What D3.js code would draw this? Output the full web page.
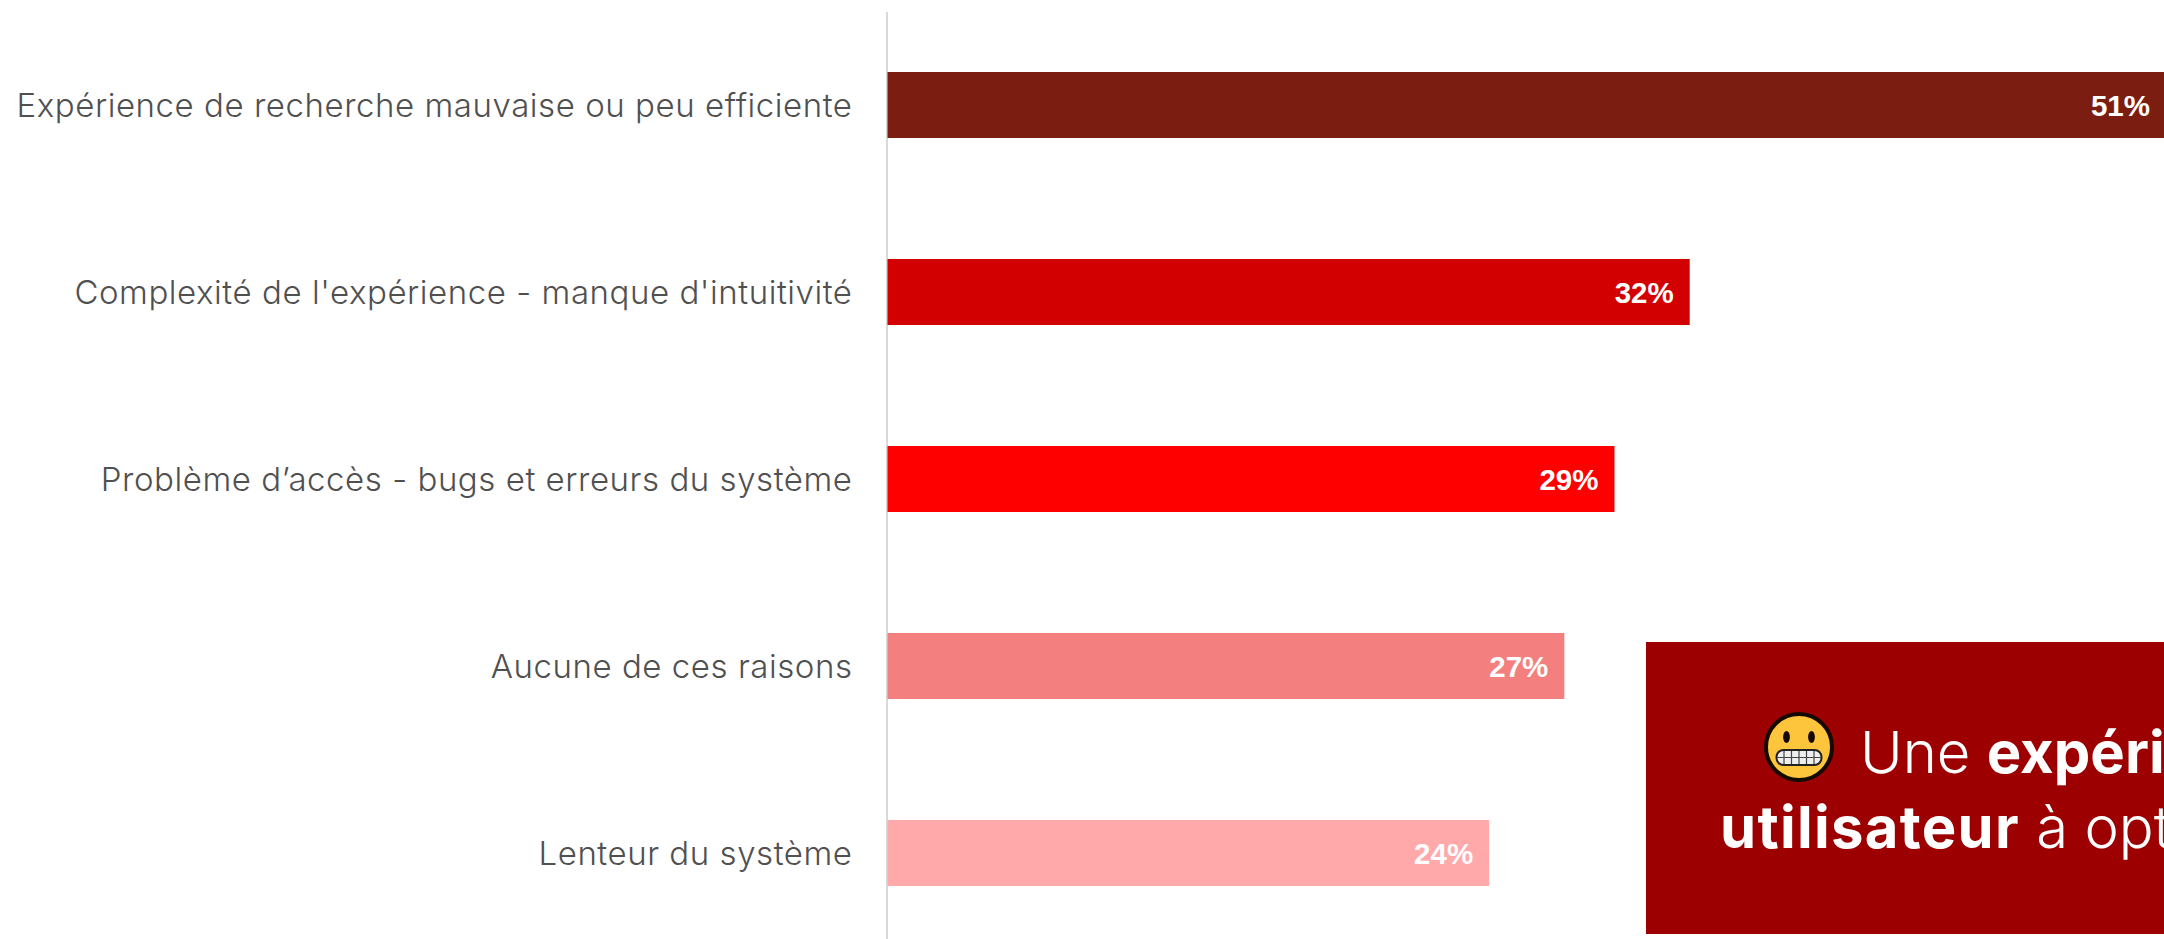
<!DOCTYPE html>
<html><head><meta charset="utf-8">
<script src="https://cdn.jsdelivr.net/npm/d3@7"></script>
<style>
html,body{margin:0;padding:0;background:#fff;overflow:hidden}
svg{display:block}
</style></head><body>
<svg id="c" width="2164" height="939"></svg>
<script>
const categories = ["Expérience de recherche mauvaise ou peu efficiente","Complexité de l'expérience - manque d'intuitivité","Problème d’accès - bugs et erreurs du système","Aucune de ces raisons","Lenteur du système"];
const values = [51,32,29,27,24];
const barColors = ["#7b1e11","#d20000","#ff0000","#f37f7f","#ffa9ab"];
const calloutLine1 = [["Une ",300,0],["expéri",700,0]];
const calloutLine2 = [["utilisateur",700,1.3],[" à opt",300,0]];

const svg = d3.select("#c");
const x = d3.scaleLinear().domain([0,51]).range([887.5,2166]);
const y = d3.scaleBand().domain(categories).range([11.5,946.5]).paddingInner(.647).paddingOuter(.3235);

const axis = svg.append("g").attr("transform","translate(886.5,0)")
  .call(d3.axisLeft(y).tickSize(0).tickPadding(34));
axis.select(".domain").attr("stroke","#d9d9d9").attr("stroke-width",2);
axis.selectAll("text").attr("font-family","Inter").attr("font-weight",300).attr("font-size",33).attr("letter-spacing",0.55).attr("fill","#505050").attr("dy","0.35em");

svg.selectAll("rect.bar").data(values).join("rect").attr("class","bar")
  .attr("x",x(0)).attr("y",(d,i)=>y(categories[i]))
  .attr("width",d=>x(d)-x(0)).attr("height",y.bandwidth())
  .attr("fill",(d,i)=>barColors[i]);

svg.selectAll("text.val").data(values).join("text").attr("class","val")
  .attr("x",d=>x(d)-16).attr("y",(d,i)=>y(categories[i])+y.bandwidth()/2+11)
  .attr("text-anchor","end").attr("font-family","'Liberation Sans'").attr("font-weight",700)
  .attr("font-size",29.5).attr("fill","#fff").text(d=>d+"%");

// callout
svg.append("rect").attr("x",1646).attr("y",642).attr("width",518).attr("height",292).attr("fill","#9c0000");
const line = (parts,xp,yp)=>{
  const t = svg.append("text").attr("x",xp).attr("y",yp).attr("font-family","Inter").attr("font-size",58).attr("fill","#fff").style("white-space","pre");
  parts.forEach(p=>t.append("tspan").attr("font-weight",p[1]).attr("letter-spacing",p[2]).text(p[0]));
};
line(calloutLine1,1860,773);
line(calloutLine2,1720,848);

// emoji
const e = svg.append("g").attr("transform","translate(1799,747)");
e.append("circle").attr("r",33).attr("fill","#fdc53c").attr("stroke","#140a00").attr("stroke-width",4);
[-12.5,12.5].forEach(dx=>e.append("ellipse").attr("cx",dx).attr("cy",-10).attr("rx",3.4).attr("ry",6).attr("fill","#140a00"));
e.append("rect").attr("x",-22.5).attr("y",3).attr("width",45).attr("height",15).attr("rx",7).attr("fill","#eee").attr("stroke","#222").attr("stroke-width",2);
d3.range(-15,16,7.5).forEach(dx=>e.append("line").attr("x1",dx).attr("x2",dx).attr("y1",4).attr("y2",17).attr("stroke","#444").attr("stroke-width",1.2));
e.append("line").attr("x1",-22).attr("x2",22).attr("y1",10.5).attr("y2",10.5).attr("stroke","#444").attr("stroke-width",1.2);
</script></body></html>
